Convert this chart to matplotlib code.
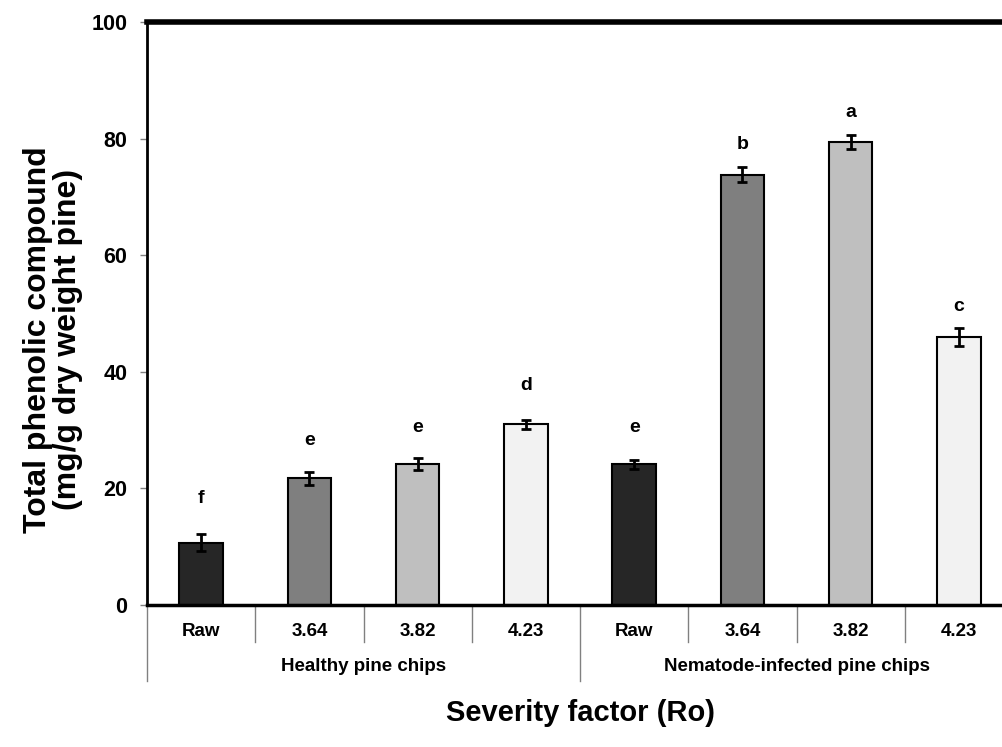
import matplotlib
matplotlib.use("Agg")
import matplotlib.pyplot as plt
from matplotlib.lines import Line2D

plt.rcParams['font.family'] = ['Liberation Sans', 'DejaVu Sans']
plt.rcParams['font.weight'] = 'bold'

categories = ["Raw", "3.64", "3.82", "4.23", "Raw", "3.64", "3.82", "4.23"]
groups = ["Healthy pine chips", "Nematode-infected pine chips"]
values = [10.7, 21.7, 24.2, 31.0, 24.1, 73.8, 79.5, 46.0]
errors = [1.5, 1.1, 1.0, 0.8, 0.8, 1.3, 1.2, 1.5]
letters = ["f", "e", "e", "d", "e", "b", "a", "c"]
letter_y = [17.5, 27.4, 29.7, 36.9, 29.7, 78.2, 83.7, 50.4]
colors = ["#262626", "#7f7f7f", "#bfbfbf", "#f2f2f2"] * 2

fig = plt.figure(figsize=(10.02, 7.47), dpi=100)
ax = fig.add_axes([147/1002, 1-605/747, 866/1002, 583/747])

x = [i + 0.5 for i in range(len(values))]
ax.bar(x, values, width=0.4, color=colors, edgecolor="black", linewidth=1.5, zorder=2)
ax.errorbar(x, values, yerr=errors, fmt="none", ecolor="black", elinewidth=2,
            capsize=3.5, capthick=2, zorder=3)
for xi, ly, l in zip(x, letter_y, letters):
    ax.text(xi, ly, l, ha="center", va="baseline", fontsize=14, fontweight="bold")

ax.set_xlim(0, 8)
ax.set_ylim(0, 100)
ax.set_yticks([0, 20, 40, 60, 80, 100])
ax.set_xticks([])
ax.tick_params(axis="y", labelsize=15.5, length=5, color="#808080", width=1, pad=9)
for lab in ax.get_yticklabels():
    lab.set_fontweight("bold")

ax.spines["top"].set_linewidth(4)
ax.spines["left"].set_linewidth(2)
ax.spines["bottom"].set_linewidth(2.5)
ax.spines["right"].set_linewidth(2)

# category labels and separators
trans = ax.get_xaxis_transform()
for i, c in enumerate(categories):
    ax.text(i + 0.5, -0.046, c, transform=trans, ha="center", va="center",
            fontsize=13.5, fontweight="bold")
for i in range(len(categories) + 1):
    ybot = -0.13 if i % 4 == 0 else -0.064
    ax.add_line(Line2D([i, i], [0, ybot], transform=trans, color="#808080",
                       linewidth=1, clip_on=False))
for g, name in enumerate(groups):
    ax.text(g * 4 + 2, -0.105, name, transform=trans, ha="center", va="center",
            fontsize=13.5, fontweight="bold")

ax.text(0.5, -0.185, "Severity factor (Ro)", transform=ax.transAxes,
        ha="center", va="center", fontsize=21, fontweight="bold")
ax.set_ylabel("Total phenolic compound\n(mg/g dry weight pine)", fontsize=23,
              fontweight="bold", linespacing=1.0)
ax.yaxis.set_label_coords(-0.074, 0.455)

fig.savefig("out.png", dpi=100)
